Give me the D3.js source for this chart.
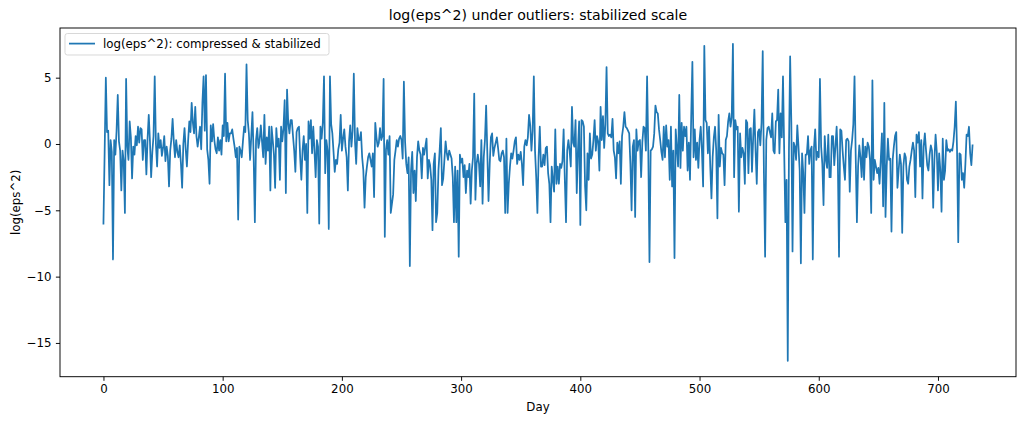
<!DOCTYPE html>
<html><head><meta charset="utf-8">
<script src="https://cdn.jsdelivr.net/npm/d3@7"></script>
<style>
body{margin:0;background:#fff}
svg{display:block}
text{font-family:"DejaVu Sans",sans-serif;fill:#000}
</style>
</head><body>
<svg id="chart" width="1024" height="422"></svg>
<script>
const chartTitle = "log(eps^2) under outliers: stabilized scale";
const xLabel = "Day";
const yLabel = "log(eps^2)";
const seriesName = "log(eps^2): compressed & stabilized";
const xTicks = [0, 100, 200, 300, 400, 500, 600, 700];
const yTicks = [-15, -10, -5, 0, 5];
const values = [
-6.0,-0.6,5.0,0.9,1.0,-3.1,0.3,-0.6,-8.7,0.3,
-0.8,1.0,3.7,0.2,-0.5,-3.5,-0.5,-1.3,-5.2,4.9,
-0.2,-1.2,1.7,0.5,-2.6,-0.2,-0.8,0.6,-0.1,1.3,
0.1,1.2,1.1,-1.2,0.3,0.3,-2.3,0.4,2.2,0.2,
-2.5,-0.6,0.6,5.1,0.0,-1.7,0.8,-0.3,0.3,-0.9,
-0.3,0.6,-1.3,-0.2,-0.9,-3.2,-0.5,0.4,1.9,0.2,
-1.0,0.3,-0.6,-1.0,-0.1,-1.5,-3.3,0.0,1.2,-0.4,
-1.7,0.2,1.7,0.9,3.1,1.6,0.8,2.8,0.6,-0.2,
0.5,1.3,-0.4,3.1,5.1,1.0,5.2,-0.4,-1.2,-3.0,
1.4,0.2,1.5,0.3,-0.4,-0.7,0.5,-0.5,0.3,-0.8,
1.4,0.6,5.3,0.2,1.6,0.2,0.8,0.8,1.1,0.4,
-0.2,-1.0,-0.3,-5.7,-0.2,-0.5,-1.0,0.2,1.3,0.9,
6.0,1.8,0.8,-1.2,0.6,2.4,-1.0,-5.9,0.3,1.2,
-0.3,0.3,1.4,0.2,-1.0,2.2,-1.5,0.5,-0.5,1.3,
-3.5,1.3,0.3,-0.8,-3.3,1.2,-0.2,0.4,-2.7,1.3,
0.2,1.2,3.3,-3.7,4.1,1.6,0.8,1.8,1.8,0.6,
-0.5,-2.1,0.9,1.2,1.3,-1.0,-2.7,-0.5,0.6,-1.2,
0.0,-5.2,1.7,0.4,1.8,-0.7,1.3,-0.5,-2.5,0.3,
-0.2,-6.0,1.3,0.4,1.6,5.1,-2.2,0.3,-0.5,-6.4,
5.1,1.5,0.8,-0.6,-2.1,-1.2,-1.5,-0.4,0.1,2.2,
-0.5,0.4,1.1,-0.2,-1.0,-3.5,0.2,1.4,-0.2,1.0,
5.3,0.2,-1.5,1.2,0.3,0.3,0.9,-1.0,-2.0,-4.8,
-2.5,-1.7,-1.0,-0.7,-1.2,-1.7,-0.7,-4.0,1.6,0.5,
-0.2,0.1,1.2,0.3,0.6,4.9,-7.0,-0.4,0.3,-0.8,
0.6,-5.2,-4.5,-3.8,-1.2,-0.5,0.3,-0.2,0.4,0.6,
0.3,-1.1,4.7,0.2,-1.5,-2.2,-1.0,-9.2,-2.0,-0.6,
-3.7,-2.0,-4.3,-1.0,0.2,-0.5,-0.8,-2.6,-0.3,-0.8,
-0.2,0.4,-2.6,-1.2,-1.6,-2.7,-6.5,-1.5,-0.7,-5.9,
-5.2,-2.0,-0.5,1.2,-3.1,-2.6,-1.2,0.2,-0.7,-1.2,
-0.5,-0.8,-1.1,-2.5,-5.9,-1.7,-5.9,-2.0,-8.5,-0.8,
-1.4,-1.1,-2.5,-1.6,-3.7,-2.0,-2.5,-1.5,-4.5,-2.0,
-1.0,3.8,-4.2,-1.5,-0.8,-1.5,-3.2,0.3,-4.5,-1.0,
0.3,2.9,-0.7,-4.3,-1.5,0.5,0.8,-0.9,-0.3,0.1,
0.5,-0.3,-1.2,-1.3,-0.7,-0.5,-1.0,-5.2,0.4,-5.2,
-3.0,-1.7,-0.7,-1.1,-0.5,0.2,0.5,-1.5,-0.8,-1.2,
-0.6,-1.5,-3.1,-0.2,0.3,-0.1,0.5,2.2,1.4,-0.5,
1.0,5.1,-0.5,-2.5,-5.2,-1.0,1.3,-1.7,-1.7,-0.8,
-1.6,-0.3,-0.2,-2.2,-3.0,-5.9,-1.7,-2.7,-3.6,1.1,
-3.0,-1.7,-3.0,-1.5,-1.8,-1.3,1.1,-2.7,-5.9,-0.5,
0.3,-0.5,-1.7,2.8,0.1,-0.2,1.8,-3.7,-0.5,1.7,
-6.1,1.8,1.7,1.3,-3.2,-5.0,-0.7,-2.7,0.8,-1.1,
-0.8,0.3,1.8,-0.5,0.6,0.2,-2.0,2.8,0.3,2.1,
-0.3,1.5,5.8,0.8,0.6,0.7,0.5,1.9,-0.5,-1.0,
-2.6,0.1,-0.7,0.2,-3.0,0.6,1.3,2.4,1.3,1.2,
1.0,0.8,-1.5,-5.0,-0.2,0.3,-5.5,1.1,-0.5,0.2,
0.3,-2.5,0.1,1.3,1.2,-0.5,5.1,-0.4,-8.9,-0.5,
-0.4,-0.2,0.8,2.9,2.4,2.3,1.1,0.3,-0.6,-1.2,
1.3,-1.0,1.4,-0.2,0.3,-2.7,1.3,-3.2,-0.5,-8.6,
1.1,-0.3,-1.7,3.7,-1.8,1.6,-0.5,1.3,0.6,1.3,
-2.0,0.1,-2.7,2.0,6.2,-1.0,1.1,-1.2,0.1,-1.8,
0.3,1.3,-0.5,-3.2,7.4,1.8,1.6,-0.7,1.3,-1.7,
-4.1,-1.0,0.5,1.3,-0.5,-5.6,2.2,-1.7,-0.3,-0.7,
-0.8,-3.1,0.3,0.6,1.7,2.3,1.3,2.0,7.55,-2.5,
1.8,1.1,1.3,-5.1,0.8,-1.0,-0.3,-0.7,-3.0,1.8,
1.6,-2.2,1.1,1.2,-2.1,0.5,2.6,-0.5,-3.0,0.9,
1.1,-0.1,1.6,7.0,-2.2,-8.5,0.3,1.2,1.3,0.9,
0.5,2.3,-0.5,-0.7,1.7,1.8,4.1,-0.7,2.3,0.5,
5.1,-0.5,-5.9,-2.7,-16.35,-0.5,6.6,1.6,-8.1,0.1,
-0.2,-1.2,1.4,-0.2,-2.0,-9.0,-0.7,-2.2,-5.2,-0.8,
-0.8,0.6,-1.5,-0.5,-0.2,-8.7,-0.3,1.1,-1.2,-0.6,
-1.0,4.9,-0.2,-1.5,-4.6,0.6,-1.2,-1.8,0.7,-2.5,
-2.5,0.6,0.6,-1.6,-0.2,1.3,-1.2,-8.5,1.1,1.0,
-0.5,-1.7,-2.7,0.3,0.4,0.2,-3.6,-0.5,0.3,1.5,
5.1,-1.0,-5.9,-1.7,-0.1,-1.0,-2.5,0.4,-2.7,-0.2,
-1.0,0.1,-0.2,-1.2,-5.2,4.8,-2.7,-1.2,-1.7,-2.2,
-1.8,-3.0,-1.2,0.8,-4.7,3.1,-5.5,-1.7,0.4,-1.2,
-1.1,-6.6,-1.2,-0.2,0.6,0.9,-3.3,-2.0,-0.8,-1.5,
-6.7,-1.7,-0.7,-1.0,-2.7,-3.0,-1.7,-1.2,-0.5,0.1,
-0.5,-4.0,0.7,0.1,0.9,-1.7,0.3,-4.1,-0.2,0.8,
-0.5,-1.6,-2.0,-0.8,-0.1,-0.5,-4.8,-1.2,0.7,-0.6,
-3.5,-0.7,-2.0,-5.1,0.4,-2.7,-2.0,0.3,-0.5,-0.4,
-0.6,-0.4,-0.5,0.2,1.3,3.2,-0.5,-7.4,-0.7,-0.8,
-2.7,-2.2,-3.3,-1.5,0.7,0.6,1.3,-0.7,-1.6,-0.1
];
const days = values.map((_, i) => i);

const m = {left: 60, right: 1016, top: 28, bottom: 376.7};
const lineColor = "#1f77b4";

const svg = d3.select("#chart");
const data = days.map((d, i) => ({day: d, v: values[i]}));

const [x0, x1] = d3.extent(days);
const xPad = (x1 - x0) * 0.05;
const [y0, y1] = d3.extent(values);
const yPad = (y1 - y0) * 0.05;

const x = d3.scaleLinear().domain([x0 - xPad, x1 + xPad]).range([m.left, m.right]);
const y = d3.scaleLinear().domain([y0 - yPad, y1 + yPad]).range([m.bottom, m.top]);

svg.append("defs").append("clipPath").attr("id", "clip")
  .append("rect").attr("x", m.left).attr("y", m.top)
  .attr("width", m.right - m.left).attr("height", m.bottom - m.top);

const line = d3.line().x(d => x(d.day)).y(d => y(d.v));
svg.append("path").datum(data)
  .attr("clip-path", "url(#clip)")
  .attr("fill", "none")
  .attr("stroke", lineColor)
  .attr("stroke-width", 1.75)
  .attr("stroke-linejoin", "round")
  .attr("stroke-linecap", "square")
  .attr("d", line);

const fontPx = 11.8;
const xAxis = d3.axisBottom(x).tickValues(xTicks).tickSizeOuter(0).tickSize(4.1).tickPadding(4.1);
const yAxis = d3.axisLeft(y).tickValues(yTicks).tickSizeOuter(0).tickSize(4.1).tickPadding(4.3)
  .tickFormat(d => d < 0 ? "\u2212" + Math.abs(d) : String(d));

const gx = svg.append("g").attr("transform", `translate(0,${m.bottom})`).call(xAxis);
const gy = svg.append("g").attr("transform", `translate(${m.left},0)`).call(yAxis);
[gx, gy].forEach(g => {
  g.select(".domain").remove();
  g.selectAll(".tick line").attr("stroke", "#000").attr("stroke-width", 0.95);
  g.selectAll(".tick text").attr("font-size", fontPx).attr("fill", "#000")
    .attr("font-family", "DejaVu Sans");
});

svg.append("rect").attr("x", m.left).attr("y", m.top)
  .attr("width", m.right - m.left).attr("height", m.bottom - m.top)
  .attr("fill", "none").attr("stroke", "#000").attr("stroke-width", 0.95);

svg.append("text").attr("x", (m.left + m.right) / 2).attr("y", 20)
  .attr("text-anchor", "middle").attr("font-size", 14.1).text(chartTitle);
svg.append("text").attr("x", (m.left + m.right) / 2).attr("y", 411)
  .attr("text-anchor", "middle").attr("font-size", fontPx).text(xLabel);
svg.append("text").attr("transform", `translate(20,${(m.top + m.bottom) / 2}) rotate(-90)`)
  .attr("text-anchor", "middle").attr("font-size", fontPx).text(yLabel);

const lg = svg.append("g");
lg.append("rect").attr("x", 65).attr("y", 33.5).attr("width", 264).attr("height", 21.5)
  .attr("rx", 2.4).attr("fill", "#fff").attr("fill-opacity", 0.8)
  .attr("stroke", "#d6d6d6").attr("stroke-width", 0.95);
lg.append("line").attr("x1", 69).attr("x2", 95).attr("y1", 43.6).attr("y2", 43.6)
  .attr("stroke", lineColor).attr("stroke-width", 1.75);
lg.append("text").attr("x", 103).attr("y", 48.3).attr("font-size", fontPx).text(seriesName);
</script>
</body></html>
